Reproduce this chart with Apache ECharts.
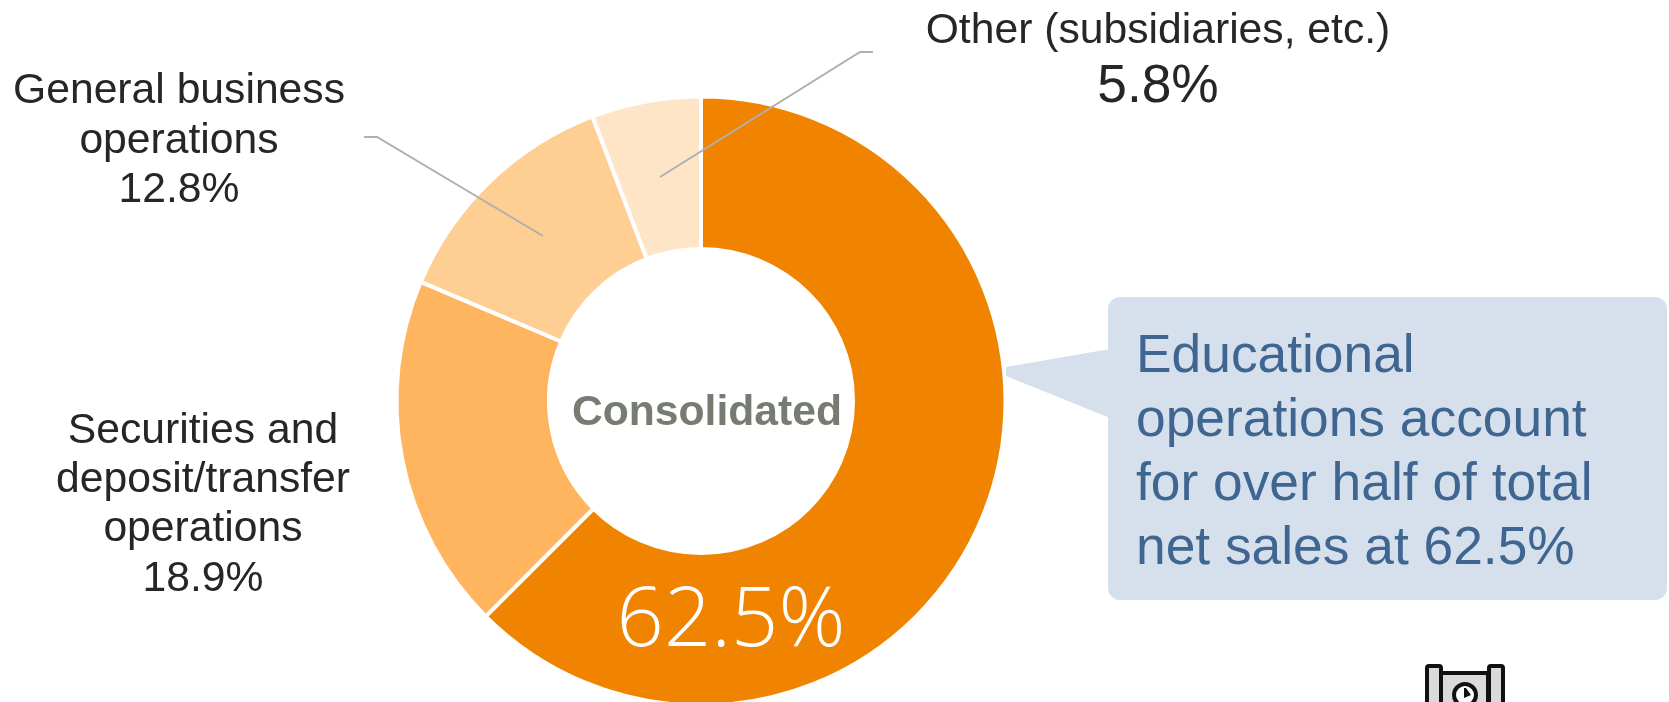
<!DOCTYPE html>
<html><head><meta charset="utf-8">
<style>html,body{margin:0;padding:0;background:#fff;overflow:hidden}#c{width:1669px;height:702px}</style>
<script src="https://cdn.jsdelivr.net/npm/echarts@6/dist/echarts.min.js"></script>
</head><body><div id="c"></div>
<script>
const categories = ['Educational', 'Securities and\ndeposit/transfer\noperations', 'General business\noperations', 'Other (subsidiaries, etc.)'];
const shares = [62.5, 18.9, 12.8, 5.8];
const sliceColors = ['#F08300', '#FFB55F', '#FFCE93', '#FFE5C8'];
const centerText = 'Consolidated';
const calloutText = 'Educational\noperations account\nfor over half of total\nnet sales at 62.5%';

const dark = '#262626';
const sans = '"Liberation Sans", Arial, sans-serif';
const thin = '"Open Sans", "Noto Sans", sans-serif';
const pct = i => shares[i].toFixed(1) + '%';

const chart = echarts.init(document.getElementById('c'), null, {renderer: 'canvas'});
chart.setOption({
  backgroundColor: '#fff',
  animation: false,
  series: [{
    type: 'pie',
    center: [701, 401],
    radius: [152, 304.5],
    startAngle: 90,
    clockwise: true,
    silent: true,
    label: {show: false},
    labelLine: {show: false},
    itemStyle: {borderColor: '#fff', borderWidth: 4},
    data: categories.map((name, i) => ({name, value: shares[i], itemStyle: {color: sliceColors[i]}}))
  }],
  graphic: [
    {type: 'text', z: 20, style: {x: 707, y: 413, text: centerText, fontFamily: sans, fontWeight: 'bold', fontSize: 42.67, fill: '#767C72', align: 'center', verticalAlign: 'middle'}},
    {type: 'text', z: 20, style: {x: 731, y: 622, text: pct(0), fontFamily: thin, fontWeight: 300, fontSize: 83, fill: '#fff', align: 'center', verticalAlign: 'middle'}},
    {type: 'text', z: 20, style: {x: 203, y: 505, text: categories[1] + '\n' + pct(1), fontFamily: sans, fontSize: 42.67, lineHeight: 49.3, fill: dark, align: 'center', verticalAlign: 'middle'}},
    {type: 'text', z: 20, style: {x: 179, y: 141, text: categories[2] + '\n' + pct(2), fontFamily: sans, fontSize: 42.67, lineHeight: 49.3, fill: dark, align: 'center', verticalAlign: 'middle'}},
    {type: 'text', z: 20, style: {x: 1158, y: 31, text: categories[3], fontFamily: sans, fontSize: 42.67, fill: dark, align: 'center', verticalAlign: 'middle'}},
    {type: 'text', z: 20, style: {x: 1158, y: 87, text: pct(3), fontFamily: sans, fontSize: 53.33, fill: dark, align: 'center', verticalAlign: 'middle'}},
    {type: 'polyline', z: 20, shape: {points: [[364,137],[377,137],[543,236]]}, style: {stroke: '#ADB0B0', lineWidth: 2, fill: null}},
    {type: 'polyline', z: 20, shape: {points: [[873,52],[860,52],[660,177]]}, style: {stroke: '#ADB0B0', lineWidth: 2, fill: null}},
    {type: 'rect', z: 10, shape: {x: 1108, y: 297, width: 559, height: 303, r: 12}, style: {fill: '#D6E0ED'}},
    {type: 'polygon', z: 10, shape: {points: [[1110,349],[1006,367],[1006,376],[1110,418]]}, style: {fill: '#D6E0ED'}},
    {type: 'text', z: 11, style: {x: 1136, y: 453, text: calloutText, fontFamily: sans, fontSize: 53.33, lineHeight: 64, fill: '#3F6690', align: 'left', verticalAlign: 'middle'}},
    {type: 'rect', z: 12, shape: {x: 1441, y: 673, width: 47, height: 40}, style: {fill: '#D9DBDB', stroke: '#111', lineWidth: 4}},
    {type: 'rect', z: 13, shape: {x: 1427, y: 666, width: 14, height: 50, r: 2}, style: {fill: '#D9DBDB', stroke: '#111', lineWidth: 4}},
    {type: 'rect', z: 13, shape: {x: 1489, y: 666, width: 14, height: 50, r: 2}, style: {fill: '#D9DBDB', stroke: '#111', lineWidth: 4}},
    {type: 'circle', z: 14, shape: {cx: 1465, cy: 695, r: 11}, style: {fill: '#fff', stroke: '#111', lineWidth: 4}},
    {type: 'polygon', z: 15, shape: {points: [[1464,688],[1466,688],[1471,695],[1464,698]]}, style: {fill: '#111'}}
  ]
});
</script></body></html>
